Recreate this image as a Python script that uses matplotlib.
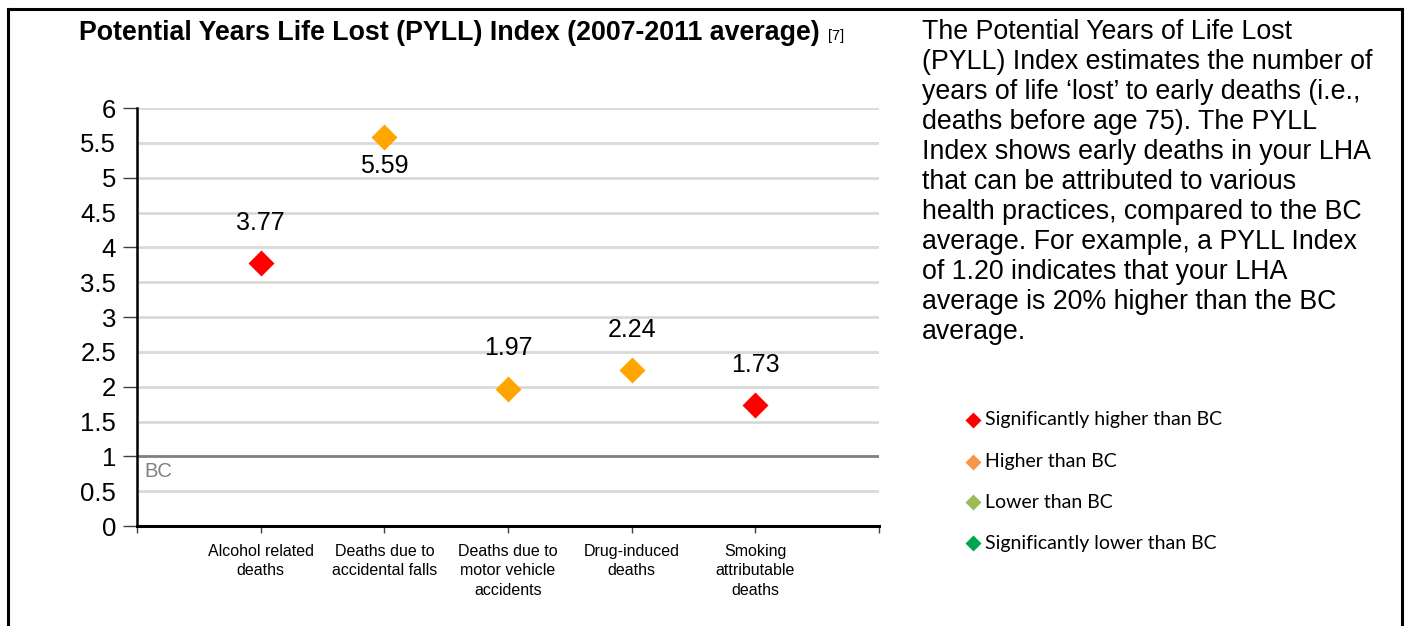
import matplotlib
matplotlib.use("Agg")
import matplotlib.pyplot as plt
from matplotlib.lines import Line2D

W, H = 1408, 626
DPI = 100

categories = ["Alcohol related\ndeaths", "Deaths due to\naccidental falls",
              "Deaths due to\nmotor vehicle\naccidents", "Drug-induced\ndeaths",
              "Smoking\nattributable\ndeaths"]
values = [3.77, 5.59, 1.97, 2.24, 1.73]
status = ["sig_higher", "higher", "higher", "higher", "sig_higher"]
label_above = [True, False, True, True, True]
bc_value = 1.0

marker_colors = {"sig_higher": "#FF0000", "higher": "#FFA500"}
legend_labels = ["Significantly higher than BC", "Higher than BC",
                 "Lower than BC", "Significantly lower than BC"]
legend_colors = ["#FF0000", "#F79646", "#9BBB59", "#00A550"]

desc_lines = ["The Potential Years of Life Lost",
              "(PYLL) Index estimates the number of",
              "years of life \u2018lost\u2019 to early deaths (i.e.,",
              "deaths before age 75). The PYLL",
              "Index shows early deaths in your LHA",
              "that can be attributed to various",
              "health practices, compared to the BC",
              "average. For example, a PYLL Index",
              "of 1.20 indicates that your LHA",
              "average is 20% higher than the BC",
              "average."]

plt.rcParams['font.family'] = ['Liberation Sans', 'DejaVu Sans']

fig = plt.figure(figsize=(W / DPI, H / DPI), dpi=DPI)


def fx(x):
    return x / W


def fy(y):
    return 1 - y / H


# outer frame (top, left, right)
fig.add_artist(Line2D([fx(8), fx(1402)], [fy(9), fy(9)], color="black", lw=2.2))
fig.add_artist(Line2D([fx(8), fx(8)], [fy(9), fy(626)], color="black", lw=2.2))
fig.add_artist(Line2D([fx(1402), fx(1402)], [fy(9), fy(626)], color="black", lw=2.2))

ax = fig.add_axes([fx(137), fy(526), fx(879) - fx(137), fy(108) - fy(526)])
ax.set_xlim(0, len(categories) + 1)
ax.set_ylim(0, 6)

# gridlines
yt = [i * 0.5 for i in range(13)]
for y in yt:
    if y == 0:
        continue
    if y == bc_value:
        ax.axhline(y, color="#808080", lw=2.0, zorder=1)
    else:
        ax.axhline(y, color="#D9D9D9", lw=2.0, zorder=1)

ax.yaxis.remove_overlapping_locs = False
ax.set_yticks(yt)
ax.set_yticklabels([("%g" % y) for y in yt], fontsize=18.5)
ax.tick_params(axis="y", which="major", length=0, pad=15)
ax.set_yticks(list(range(7)), minor=True)
ax.tick_params(axis="y", which="minor", length=10, width=1, color="#404040")

xpos = list(range(1, len(categories) + 1))
ax.set_xticks([0] + xpos + [len(categories) + 1])
ax.set_xticklabels([""] + categories + [""], fontsize=11.5, linespacing=1.37)
ax.tick_params(axis="x", length=5, width=1, color="#404040", pad=8)

for s in ["top", "right"]:
    ax.spines[s].set_visible(False)
ax.spines["left"].set_linewidth(1.8)
ax.spines["bottom"].set_linewidth(2.2)

for x, v, st, above in zip(xpos, values, status, label_above):
    ax.plot([x], [v], marker="D", ms=13.2, color=marker_colors[st], mec="none",
            linestyle="none", zorder=3, clip_on=False)
    ax.annotate("%.2f" % v, (x, v), xytext=(0, 29 if above else -21),
                textcoords="offset points", ha="center", va="center", fontsize=18)

ax.text(0.06, 0.78, "BC", color="#808080", fontsize=14.5, va="center", ha="left")

# title
fig.text(fx(79), fy(33), "Potential Years Life Lost (PYLL) Index (2007-2011 average)",
         fontsize=19.3, fontweight="bold", ha="left", va="center")
fig.text(fx(828), fy(36), "[7]", fontsize=10.5, ha="left", va="center")

# description
for i, line in enumerate(desc_lines):
    fig.text(fx(922), fy(32 + 30 * i), line, fontsize=19.3, ha="left", va="center")

# legend
leg_y = [420, 462, 502, 543]
for y, lab, c in zip(leg_y, legend_labels, legend_colors):
    fig.add_artist(Line2D([fx(973)], [fy(y)], marker="D", ms=8, color=c, mec="none",
                          linestyle="none"))
    fig.text(fx(985), fy(y), lab, fontsize=14, ha="left", va="center",
             family=["Lato", "DejaVu Sans"])

fig.savefig("out.png", dpi=DPI)
